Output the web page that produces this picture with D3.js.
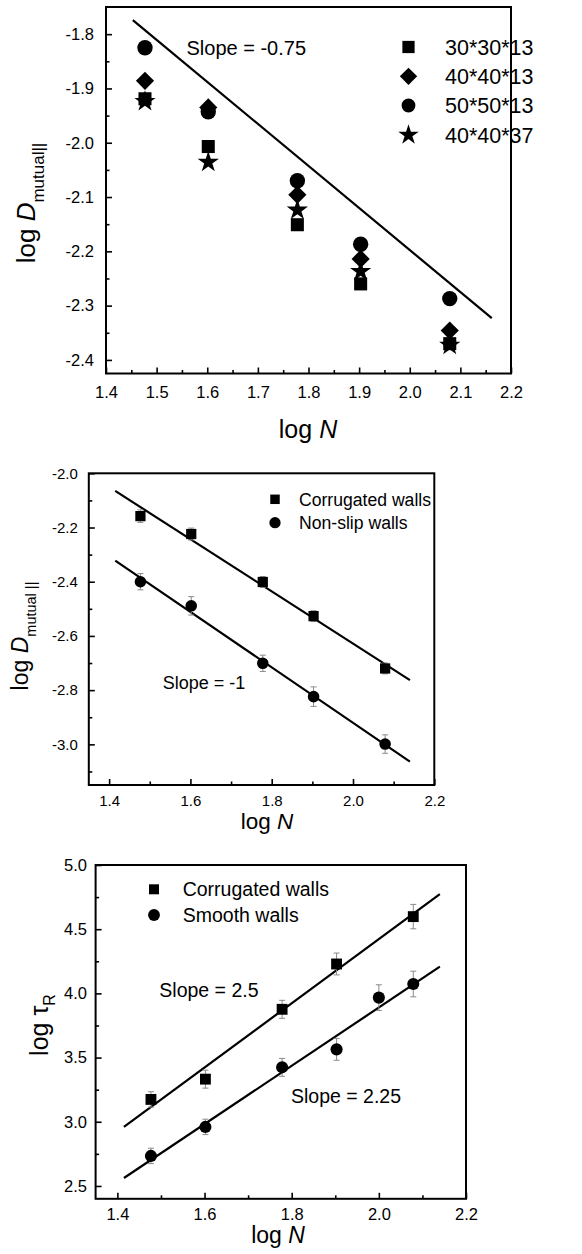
<!DOCTYPE html>
<html><head><meta charset="utf-8">
<script src="https://cdn.jsdelivr.net/npm/d3@7"></script>
<style>
html,body{margin:0;padding:0;background:#fff;}
text{font-family:"Liberation Sans",Arial,sans-serif;fill:#000;}
</style></head>
<body>
<svg id="c" width="582" height="1254"></svg>
<script>
// ---------- data ----------
const logN = [1.477, 1.602, 1.778, 1.903, 2.079];

// panel 1
const p1Labels = ["30*30*13", "40*40*13", "50*50*13", "40*40*37"];
const p1Square  = [-1.919, -2.007, -2.151, -2.260, -2.370];
const p1Diamond = [-1.886, -1.935, -2.096, -2.214, -2.346];
const p1Circle  = [-1.825, -1.943, -2.070, -2.187, -2.287];
const p1Star    = [-1.924, -2.036, -2.124, -2.237, -2.373];
const p1FitX = [1.453, 2.162];
const p1FitY = [-1.774, -2.323];
const p1XTicks = [1.4, 1.5, 1.6, 1.7, 1.8, 1.9, 2.0, 2.1, 2.2];
const p1YTicks = [-1.8, -1.9, -2.0, -2.1, -2.2, -2.3, -2.4];

// panel 2
const p2Labels = ["Corrugated walls", "Non-slip walls"];
const p2Corr       = [-2.158, -2.224, -2.401, -2.527, -2.720];
const p2CorrErr    = [0.023, 0.022, 0.02, 0.02, 0.02];
const p2Nonslip    = [-2.400, -2.489, -2.701, -2.824, -2.999];
const p2NonslipErr = [0.03, 0.034, 0.03, 0.036, 0.034];
const p2FitX = [1.415, 2.140];
const p2FitCorrY = [-2.065, -2.763];
const p2FitNonY  = [-2.322, -3.064];
const p2XTicks = [1.4, 1.6, 1.8, 2.0, 2.2];
const p2YTicks = [-2.0, -2.2, -2.4, -2.6, -2.8, -3.0];

// panel 3
const p3Labels = ["Corrugated walls", "Smooth walls"];
const p3CorrX = [1.477, 1.602, 1.778, 1.903, 2.079];
const p3Corr    = [3.174, 3.332, 3.876, 4.229, 4.598];
const p3CorrErr = [0.06, 0.07, 0.07, 0.085, 0.095];
const p3SmoothX = [1.477, 1.602, 1.778, 1.903, 2.0, 2.079];
const p3Smooth    = [2.734, 2.960, 3.424, 3.564, 3.967, 4.073];
const p3SmoothErr = [0.06, 0.06, 0.07, 0.085, 0.1, 0.1];
const p3FitX = [1.415, 2.140];
const p3FitCorrY   = [2.960, 4.773];
const p3FitSmoothY = [2.562, 4.208];
const p3XTicks = [1.4, 1.6, 1.8, 2.0, 2.2];
const p3YTicks = [2.5, 3.0, 3.5, 4.0, 4.5, 5.0];

// ---------- drawing ----------
const svg = d3.select("#c");
const f1 = d3.format(".1f");
const fmt = v => f1(v).replace("\u2212", "-");

function panel(o) {
  const g = svg.append("g");
  const x = d3.scaleLinear().domain(o.xd).range([o.l, o.r]);
  const y = d3.scaleLinear().domain(o.yd).range([o.b, o.t]);
  const styleText = a => a.selectAll("text").attr("font-size", o.tfs).attr("fill", "#000")
    .attr("font-family", '"Liberation Sans",Arial');
  g.append("g").attr("transform", `translate(0,${o.b})`)
    .call(d3.axisBottom(x).tickValues(o.xt).tickSize(-6).tickPadding(o.xpad).tickFormat(fmt))
    .call(a => { a.select(".domain").remove(); a.selectAll("line").attr("stroke-width", 1.6); styleText(a); });
  g.append("g").attr("transform", `translate(0,${o.b})`)
    .call(d3.axisBottom(x).tickValues(o.xm).tickSize(-3.5).tickFormat(""))
    .call(a => { a.select(".domain").remove(); a.selectAll("line").attr("stroke-width", 1.6); });
  g.append("g").attr("transform", `translate(${o.l},0)`)
    .call(d3.axisLeft(y).tickValues(o.yt).tickSize(-6).tickPadding(o.ypad).tickFormat(fmt))
    .call(a => { a.select(".domain").remove(); a.selectAll("line").attr("stroke-width", 1.6); styleText(a); });
  g.append("g").attr("transform", `translate(${o.l},0)`)
    .call(d3.axisLeft(y).tickValues(o.ym).tickSize(-3.5).tickFormat(""))
    .call(a => { a.select(".domain").remove(); a.selectAll("line").attr("stroke-width", 1.6); });
  g.append("rect").attr("x", o.l).attr("y", o.t).attr("width", o.r - o.l).attr("height", o.b - o.t)
    .attr("fill", "none").attr("stroke", "#000").attr("stroke-width", 2);
  const xt = g.append("text").attr("x", o.xtx).attr("y", o.xty).attr("text-anchor", "middle").attr("font-size", o.xtfs);
  xt.append("tspan").text("log ");
  xt.append("tspan").attr("font-style", "italic").text("N");
  const yt = g.append("text").attr("transform", `translate(${o.ytx},${o.yty}) rotate(-90)`)
    .attr("text-anchor", "middle").attr("font-size", o.ytfs);
  yt.append("tspan").text("log ");
  yt.append("tspan").attr("font-style", o.yItalic ? "italic" : "normal").text(o.ySym);
  yt.append("tspan").attr("font-size", o.ysubfs).attr("dy", o.ysubdy).text(o.ySub);
  return {g, x, y};
}

function fitLine(P, xs, ys) {
  P.g.append("path").datum(xs.map((v, i) => [v, ys[i]]))
    .attr("d", d3.line().x(d => P.x(d[0])).y(d => P.y(d[1])))
    .attr("fill", "none").attr("stroke", "#000").attr("stroke-width", 2.2);
}
function errBars(P, xs, ys, es) {
  const gg = P.g.append("g").attr("stroke", "#8a8a8a").attr("stroke-width", 1);
  xs.forEach((xv, i) => {
    const cx = P.x(xv), y1 = P.y(ys[i] - es[i]), y2 = P.y(ys[i] + es[i]);
    gg.append("line").attr("x1", cx).attr("x2", cx).attr("y1", y1).attr("y2", y2);
    gg.append("line").attr("x1", cx - 3).attr("x2", cx + 3).attr("y1", y1).attr("y2", y1);
    gg.append("line").attr("x1", cx - 3).attr("x2", cx + 3).attr("y1", y2).attr("y2", y2);
  });
}
function marker(g, type, size, cx, cy) {
  let sym = d3.symbolSquare, rot = 0;
  if (type === "circle") sym = d3.symbolCircle;
  if (type === "star") sym = d3.symbolStar;
  if (type === "diamond") { sym = d3.symbolSquare; rot = 45; }
  g.append("path").attr("d", d3.symbol().type(sym).size(size)())
    .attr("transform", `translate(${cx},${cy}) rotate(${rot})`).attr("fill", "#000");
}
function points(P, xs, ys, type, size) {
  xs.forEach((xv, i) => marker(P.g, type, size, P.x(xv), P.y(ys[i])));
}
function label(P, txt, x, y, fs) {
  P.g.append("text").attr("x", x).attr("y", y).attr("font-size", fs).text(txt);
}

// ----- panel 1 -----
const P1 = panel({
  xd: [1.4, 2.2], yd: [-2.425, -1.75], l: 106, r: 511, t: 7, b: 373.5,
  xt: p1XTicks, xm: d3.range(1.45, 2.2, 0.1), yt: p1YTicks, ym: d3.range(-1.85, -2.42, -0.1),
  tfs: 16.5, xpad: 13, ypad: 12,
  xtx: 308, xty: 438, xtfs: 25,
  ytx: 35, yty: 203, ytfs: 26, ySym: "D", yItalic: true, ySub: "mutual||", ysubfs: 17, ysubdy: 9
});
fitLine(P1, p1FitX, p1FitY);
points(P1, logN, p1Square, "square", 170);
points(P1, logN, p1Star, "star", 140);
points(P1, logN, p1Diamond, "diamond", 165);
points(P1, logN, p1Circle, "circle", 185);
label(P1, "Slope = -0.75", 186.5, 54.5, 20);
const p1Types = ["square", "diamond", "circle", "star"];
const p1Sizes = [150, 150, 150, 130];
const p1Rows = [47, 76.3, 105.5, 135];
p1Labels.forEach((t, i) => {
  marker(P1.g, p1Types[i], p1Sizes[i], 408.5, p1Rows[i]);
  P1.g.append("text").attr("x", 445).attr("y", p1Rows[i]).attr("dy", "0.36em").attr("font-size", 21.5).text(t);
});

// ----- panel 2 -----
const P2 = panel({
  xd: [1.35, 2.2], yd: [-3.15, -2.0], l: 88.8, r: 434.3, t: 473.3, b: 785,
  xt: p2XTicks, xm: [1.5, 1.7, 1.9, 2.1], yt: p2YTicks, ym: [-2.1, -2.3, -2.5, -2.7, -2.9, -3.1],
  tfs: 15, xpad: 10.5, ypad: 11,
  xtx: 267, xty: 829, xtfs: 22.5,
  ytx: 28, yty: 636, ytfs: 23, ySym: "D", yItalic: true, ySub: "mutual ||", ysubfs: 14.5, ysubdy: 8
});
fitLine(P2, p2FitX, p2FitCorrY);
fitLine(P2, p2FitX, p2FitNonY);
errBars(P2, logN, p2Corr, p2CorrErr);
errBars(P2, logN, p2Nonslip, p2NonslipErr);
points(P2, logN, p2Corr, "square", 105);
points(P2, logN, p2Nonslip, "circle", 105);
label(P2, "Slope = -1", 162.7, 689.3, 18);
const p2Types = ["square", "circle"];
const p2Rows = [499.3, 522.7];
p2Labels.forEach((t, i) => {
  marker(P2.g, p2Types[i], i ? 100 : 90, 275, p2Rows[i]);
  P2.g.append("text").attr("x", 299).attr("y", p2Rows[i]).attr("dy", "0.36em").attr("font-size", 17.6).text(t);
});

// ----- panel 3 -----
const P3 = panel({
  xd: [1.35, 2.2], yd: [2.4, 5.0], l: 95.6, r: 466, t: 865, b: 1198.8,
  xt: p3XTicks, xm: [1.5, 1.7, 1.9, 2.1], yt: p3YTicks, ym: [2.75, 3.25, 3.75, 4.25, 4.75],
  tfs: 16.5, xpad: 9.5, ypad: 8.7,
  xtx: 278, xty: 1243, xtfs: 23,
  ytx: 48, yty: 1025, ytfs: 25, ySym: "τ", yItalic: false, ySub: "R", ysubfs: 16, ysubdy: 7
});
fitLine(P3, p3FitX, p3FitCorrY);
fitLine(P3, p3FitX, p3FitSmoothY);
errBars(P3, p3CorrX, p3Corr, p3CorrErr);
errBars(P3, p3SmoothX, p3Smooth, p3SmoothErr);
points(P3, p3CorrX, p3Corr, "square", 118);
points(P3, p3SmoothX, p3Smooth, "circle", 115);
label(P3, "Slope = 2.5", 159.3, 996.7, 19.5);
label(P3, "Slope = 2.25", 291, 1103.3, 19.5);
const p3Rows = [889.3, 915];
p3Labels.forEach((t, i) => {
  marker(P3.g, i ? "circle" : "square", i ? 110 : 100, 154, p3Rows[i]);
  P3.g.append("text").attr("x", 182.7).attr("y", p3Rows[i]).attr("dy", "0.36em").attr("font-size", 19.5).text(t);
});
</script>
</body></html>
